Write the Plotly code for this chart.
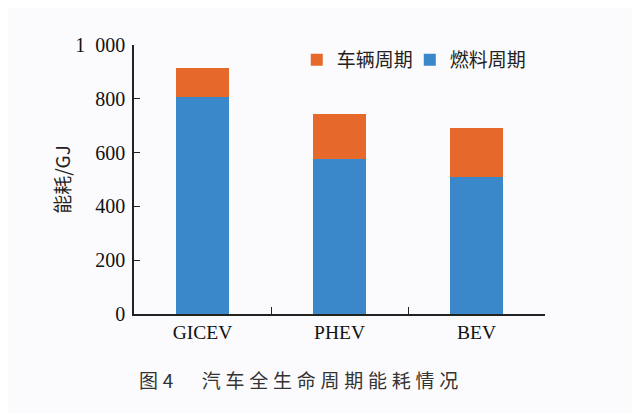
import plotly.graph_objects as go

categories = ["GICEV", "PHEV", "BEV"]
fuel_cycle = [805, 576, 509]
vehicle_cycle = [111, 166, 184]
y_tickvals = [0, 200, 400, 600, 800, 1000]
y_ticktext = ["0", "200", "400", "600", "800", "1\u2002000"]
caption = "图\u20054\u3000\u2002汽\u2005车\u2005全\u2005生\u2005命\u2005周\u2005期\u2005能\u2005耗\u2005情\u2005况"

serif = "Liberation Serif, Times New Roman, serif"
cjk = "Noto Sans CJK SC, sans-serif"

fig = go.Figure()
fig.add_trace(go.Bar(x=categories, y=fuel_cycle, name="燃料周期",
                     marker=dict(color="#3A87C9", line=dict(width=0)),
                     width=0.39, legend="legend2"))
fig.add_trace(go.Bar(x=categories, y=vehicle_cycle, name="车辆周期",
                     marker=dict(color="#E6692B", line=dict(width=0)),
                     width=0.39, legend="legend"))

legend_common = dict(orientation="h", y=1.015, xanchor="left", yanchor="top",
                     font=dict(family=cjk, size=19, color="#222"),
                     bgcolor="rgba(0,0,0,0)")

fig.update_layout(
    width=640, height=413,
    barmode="stack",
    paper_bgcolor="#fbfbfd", plot_bgcolor="#fbfbfd",
    margin=dict(l=126, r=103, t=37, b=107),
    showlegend=True,
    legend=dict(x=0.396, **legend_common),
    legend2=dict(x=0.671, **legend_common),
    xaxis=dict(showline=True, linecolor="#222", linewidth=1.6,
               ticks="inside", tickson="boundaries", ticklen=7, tickcolor="#222",
               tickfont=dict(family=serif, size=19.5, color="#111"),
               showgrid=False, zeroline=False),
    yaxis=dict(range=[0, 1000], showline=True, linecolor="#222", linewidth=1.6,
               ticks="inside", ticklen=6, tickcolor="#222",
               tickvals=y_tickvals, ticktext=y_ticktext, ticklabelstandoff=3,
               tickfont=dict(family=serif, size=20, color="#111"),
               showgrid=False, zeroline=False,
               title=dict(text="能耗/GJ", font=dict(family=cjk, size=19, color="#222"),
                          standoff=0)),
    annotations=[dict(text=caption, xref="paper", yref="paper",
                      x=0.007, y=-0.242, xanchor="left", yanchor="middle", showarrow=False,
                      font=dict(family=cjk, size=19, color="#333"))],
)

fig.write_html("out.html")
